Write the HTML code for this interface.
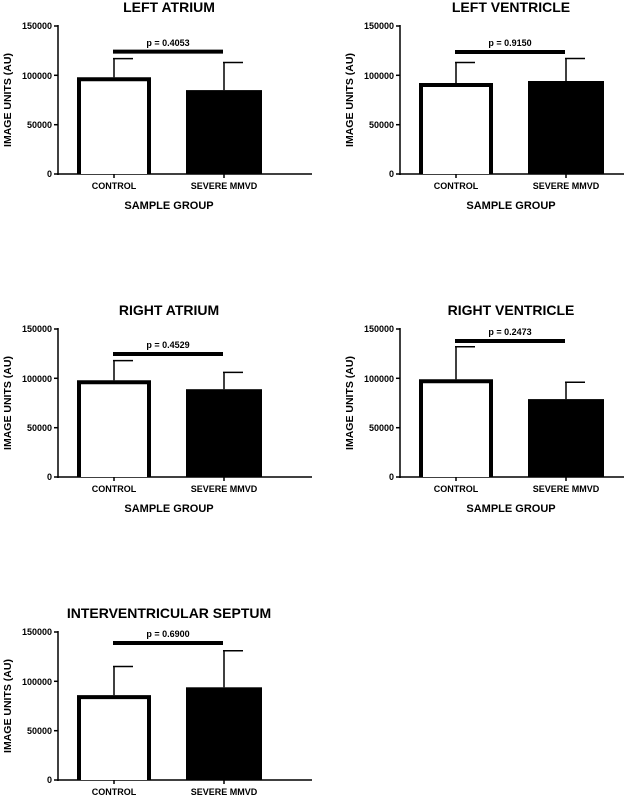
<!DOCTYPE html>
<html><head><meta charset="utf-8"><style>
html,body{margin:0;padding:0;background:#fff;}
svg{display:block;font-family:"Liberation Sans",Arial,sans-serif;font-weight:bold;}
</style></head><body>
<svg width="624" height="796" viewBox="0 0 624 796" xmlns="http://www.w3.org/2000/svg">
<defs>
<g id="axes" fill="none" stroke="#000">
<line x1="58" y1="25" x2="58" y2="175" stroke-width="1.5"/>
<line x1="57.25" y1="174" x2="312" y2="174" stroke-width="1.5"/>
<line x1="54" y1="174" x2="58" y2="174" stroke-width="1.5"/>
<line x1="54" y1="124.7" x2="58" y2="124.7" stroke-width="1.5"/>
<line x1="54" y1="75.3" x2="58" y2="75.3" stroke-width="1.5"/>
<line x1="54" y1="26" x2="58" y2="26" stroke-width="1.5"/>
<line x1="114" y1="174" x2="114" y2="178" stroke-width="1.5"/>
<line x1="224" y1="174" x2="224" y2="178" stroke-width="1.5"/>
</g>
<g id="labels" fill="#000" font-size="9">
<text x="52" y="177" text-anchor="end">0</text>
<text x="52" y="128" text-anchor="end">50000</text>
<text x="52" y="79" text-anchor="end">100000</text>
<text x="52" y="29" text-anchor="end">150000</text>
<text x="114" y="189" text-anchor="middle">CONTROL</text>
<text x="224" y="189" text-anchor="middle">SEVERE MMVD</text>
<text transform="translate(11,100) rotate(-90)" text-anchor="middle" font-size="10.5">IMAGE UNITS (AU)</text>
</g>
</defs>

<g transform="translate(0,0)">
<text x="169" y="12" text-anchor="middle" font-size="14">LEFT ATRIUM</text>
<use href="#axes"/><use href="#labels"/>
<text x="169" y="209" text-anchor="middle" font-size="11">SAMPLE GROUP</text>
<g stroke="#000" fill="none" stroke-width="1.5">
<line x1="114" y1="77.3" x2="114" y2="58.6"/><line x1="113" y1="58.6" x2="133" y2="58.6"/>
<line x1="224" y1="90.1" x2="224" y2="62.5"/><line x1="223" y1="62.5" x2="243" y2="62.5"/>
</g>
<path d="M79 174 V79.3 H149 V174" fill="#fff" stroke="#000" stroke-width="4"/>
<rect x="186" y="90.1" width="76" height="83.9" fill="#000"/>
<line x1="113" y1="51.6" x2="223" y2="51.6" stroke="#000" stroke-width="4"/>
<text x="168" y="46" text-anchor="middle" font-size="9">p = 0.4053</text>
</g>

<g transform="translate(342,0)">
<text x="169" y="12" text-anchor="middle" font-size="14">LEFT VENTRICLE</text>
<use href="#axes"/><use href="#labels"/>
<text x="169" y="209" text-anchor="middle" font-size="11">SAMPLE GROUP</text>
<g stroke="#000" fill="none" stroke-width="1.5">
<line x1="114" y1="83" x2="114" y2="62.5"/><line x1="113" y1="62.5" x2="133" y2="62.5"/>
<line x1="224" y1="81" x2="224" y2="58.5"/><line x1="223" y1="58.5" x2="243" y2="58.5"/>
</g>
<path d="M79 174 V85 H149 V174" fill="#fff" stroke="#000" stroke-width="4"/>
<rect x="186" y="81" width="76" height="93" fill="#000"/>
<line x1="113" y1="52" x2="223" y2="52" stroke="#000" stroke-width="4"/>
<text x="168" y="46" text-anchor="middle" font-size="9">p = 0.9150</text>
</g>

<g transform="translate(0,303)">
<text x="169" y="12" text-anchor="middle" font-size="14">RIGHT ATRIUM</text>
<use href="#axes"/><use href="#labels"/>
<text x="169" y="209" text-anchor="middle" font-size="11">SAMPLE GROUP</text>
<g stroke="#000" fill="none" stroke-width="1.5">
<line x1="114" y1="77.3" x2="114" y2="57.6"/><line x1="113" y1="57.6" x2="133" y2="57.6"/>
<line x1="224" y1="86.2" x2="224" y2="69.4"/><line x1="223" y1="69.4" x2="243" y2="69.4"/>
</g>
<path d="M79 174 V79.3 H149 V174" fill="#fff" stroke="#000" stroke-width="4"/>
<rect x="186" y="86.2" width="76" height="87.8" fill="#000"/>
<line x1="113" y1="51" x2="223" y2="51" stroke="#000" stroke-width="4"/>
<text x="168" y="45" text-anchor="middle" font-size="9">p = 0.4529</text>
</g>

<g transform="translate(342,303)">
<text x="169" y="12" text-anchor="middle" font-size="14">RIGHT VENTRICLE</text>
<use href="#axes"/><use href="#labels"/>
<text x="169" y="209" text-anchor="middle" font-size="11">SAMPLE GROUP</text>
<g stroke="#000" fill="none" stroke-width="1.5">
<line x1="114" y1="76.3" x2="114" y2="43.8"/><line x1="113" y1="43.8" x2="133" y2="43.8"/>
<line x1="224" y1="96.1" x2="224" y2="79.3"/><line x1="223" y1="79.3" x2="243" y2="79.3"/>
</g>
<path d="M79 174 V78.3 H149 V174" fill="#fff" stroke="#000" stroke-width="4"/>
<rect x="186" y="96.1" width="76" height="77.9" fill="#000"/>
<line x1="113" y1="38" x2="223" y2="38" stroke="#000" stroke-width="4"/>
<text x="168" y="32" text-anchor="middle" font-size="9">p = 0.2473</text>
</g>

<g transform="translate(0,606)">
<text x="169" y="12" text-anchor="middle" font-size="14">INTERVENTRICULAR SEPTUM</text>
<use href="#axes"/><use href="#labels"/>
<g stroke="#000" fill="none" stroke-width="1.5">
<line x1="114" y1="89.1" x2="114" y2="60.5"/><line x1="113" y1="60.5" x2="133" y2="60.5"/>
<line x1="224" y1="81.3" x2="224" y2="44.8"/><line x1="223" y1="44.8" x2="243" y2="44.8"/>
</g>
<path d="M79 174 V91.1 H149 V174" fill="#fff" stroke="#000" stroke-width="4"/>
<rect x="186" y="81.3" width="76" height="92.7" fill="#000"/>
<line x1="113" y1="37" x2="223" y2="37" stroke="#000" stroke-width="4"/>
<text x="168" y="31" text-anchor="middle" font-size="9">p = 0.6900</text>
</g>
</svg>
</body></html>
